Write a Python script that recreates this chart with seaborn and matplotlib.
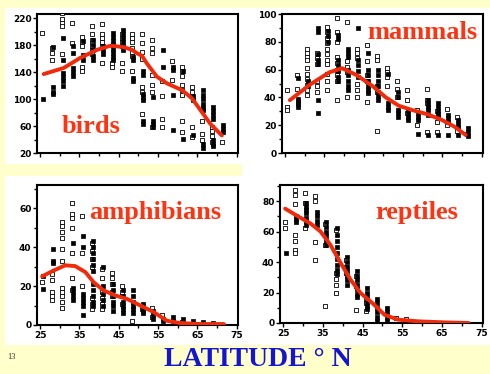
import numpy as np
import pandas as pd
import seaborn as sns
import matplotlib.pyplot as plt
from matplotlib.patches import Rectangle
from matplotlib.ticker import MultipleLocator

# latitude bands (deg N) used by every panel
bands = [25.5, 28.0, 30.5, 33.1, 35.6, 38.2, 40.7, 43.3, 45.8, 48.4,
         50.9, 53.4, 56.0, 58.5, 61.1, 63.6, 66.1, 68.7, 71.2]

# ---- birds ----
birds_open = [[198], [176, 168, 158], [228, 218, 212, 208, 166], [213, 183],
              [192, 185, 178, 148, 142], [208, 196, 188, 183, 178, 172, 166],
              [211, 196, 190, 184, 178, 153], [153, 148],
              [196, 190, 184, 178, 153, 141], [196, 190, 184, 176, 170, 164, 141],
              [196, 183, 170, 160, 118, 111, 78], [188, 176, 168, 136, 121, 111, 59],
              [126, 104, 71, 59], [156, 128], [148, 141, 134, 121, 113, 106, 68, 51],
              [118, 111, 59, 44], [68, 48, 40], [59, 52, 45, 36], [36]]
birds_fill = [[100], [177, 118, 111, 108], [190, 158, 138, 132, 126, 120],
              [178, 168, 146, 140, 134], [186, 165, 158], [188, 180, 172, 164, 158],
              [178, 172, 166], [198, 192, 186, 180, 174, 168, 162, 158],
              [203, 197, 191, 185, 179, 173], [163, 158, 131, 126],
              [141, 136, 108, 103, 98, 68, 63], [103, 68, 63, 59], [173, 148],
              [148, 143, 106, 54], [141, 41], [104, 98, 46],
              [113, 106, 100, 93, 87, 83, 34, 28], [88, 82, 76, 70, 40, 34, 30],
              [61, 56, 51]]
birds_curve_lat = [25.9, 31.0, 35.2, 39.5, 42.9, 46.2, 48.3, 49.6, 50.9, 52.1,
                   53.4, 54.7, 57.3, 61.1, 63.6, 65.7, 68.3, 71.2]
birds_curve_val = [137, 146, 161, 173, 179, 177, 173, 168, 164, 153,
                   143, 133, 123, 113, 101, 84, 63, 46]

# ---- mammals ----
mammals_open = [[45, 33, 31], [56, 46], [75, 72, 69, 67, 61, 57, 53, 49, 45, 42],
                [72, 68, 64, 52, 48, 44], [91, 87, 83, 79, 75, 71, 67, 64, 57, 52, 45],
                [97, 87, 80, 69, 65, 60, 56, 52, 38], [94, 66, 62, 58, 40],
                [75, 72, 68, 50, 45, 40], [78, 66, 56, 52, 37], [70, 67, 48, 44, 16],
                [61, 58, 55, 48], [52, 46, 40], [45, 38, 29], [31, 20],
                [46, 38, 36, 15], [30, 22, 15], [32, 20], [26, 16], [14]]
mammals_fill = [[], [54, 39, 37, 35, 33], [52, 48], [90, 87, 71, 67, 64, 38, 29],
                [88, 84, 80], [85, 82, 67, 63, 59, 55, 52],
                [75, 72, 69, 60, 56, 52, 48, 45], [90, 67, 63, 59, 55],
                [72, 60, 56, 52, 48, 45, 43], [60, 56, 52, 48, 44, 41, 38],
                [57, 36, 33, 31], [44, 40, 31, 29, 26], [31, 28, 26, 24],
                [29, 26, 24, 14], [38, 35, 33, 31, 27, 13], [36, 33, 30, 28, 26, 13],
                [27, 25, 22, 13], [24, 21, 19, 13], [18, 15, 12]]
mammals_curve_lat = [26.2, 31.2, 36.2, 39.5, 43.2, 47.3, 50.6, 53.9, 57.2, 61.0,
                     64.7, 68.0, 70.9]
mammals_curve_val = [38, 49, 58, 61, 56, 48, 40, 34, 31, 28, 24, 19, 13]

# ---- amphibians ----
amph_open = [[22], [26, 23, 17, 15, 13], [53, 51, 48, 45, 39, 33, 19, 17, 15, 12, 9],
             [63, 57, 55, 50, 37, 24, 18], [56, 37, 20], [42, 38, 34, 30, 14, 11, 8],
             [29, 24, 17, 14, 11, 8], [27, 24, 21, 17, 15], [20, 17, 15, 11], [2],
             [8], [9, 4], [5], [], [1.5], [], [], [], []]
amph_fill = [[25, 18.6], [39, 33, 32], [], [42, 19, 17, 15, 13],
             [46, 40, 16, 14, 12, 10, 5], [43, 40, 37, 34, 31, 28, 21, 18, 15, 12, 10],
             [30, 20, 16, 13, 10], [21, 18, 15, 12, 10, 7], [18, 15, 12, 10, 8, 6],
             [18, 15, 12, 10, 8, 6], [11, 9, 7, 6], [7, 5, 3], [3, 2], [4, 2], [3],
             [2], [1.4], [1], []]
amph_curve_lat = [25.5, 28.4, 31.4, 33.9, 36.5, 38.6, 41.1, 44.1, 47.1, 50.5,
                  53.9, 57.2, 60.6, 65.7, 71.7]
amph_curve_val = [25, 28, 30.7, 30.3, 27.2, 22, 17.8, 15.2, 13.4, 10,
                  6.6, 2.2, 1, 0.5, 0.5]

# ---- reptiles ----
rept_open = [[66, 62], [87, 84, 78, 58, 54, 48, 46], [85, 79, 62], [83, 80, 53, 41],
             [65, 51, 11], [61, 33, 29, 25, 20], [41, 37, 33], [31, 24, 8.7],
             [15, 13, 7.6], [], [], [3], [2.8], [], [], [], [], [], []]
rept_fill = [[45.7], [70, 68, 66], [79, 76, 74, 72, 69, 67, 64], [73, 70, 67, 64],
             [66, 63, 60, 57, 54, 51], [62, 58, 54, 50, 46, 42, 38, 35, 32],
             [43, 40, 37, 34, 31, 28, 25], [34, 31, 28, 25, 22, 19, 17],
             [23, 20, 17, 14, 11, 9], [16, 13, 10, 7, 4, 1], [10, 7, 4, 1],
             [], [], [], [], [], [], [], []]
rept_curve_lat = [25.5, 28.9, 31.8, 34.4, 36.9, 39.5, 42.0, 44.5, 47.5, 50.5,
                  53.9, 58.9, 65.7, 71.7]
rept_curve_val = [75, 69.7, 65.4, 60, 51.2, 39.2, 28.3, 19.6, 13, 5.4,
                  2.2, 1.1, 0.4, 0]

YELLOW = "#ffffcc"
RED = "#f02a0a"
W, H = 490, 374


def to_frame(cols):
    rows = [(b, v) for b, vals in zip(bands, cols) for v in vals]
    return pd.DataFrame(rows, columns=["lat", "val"])


def px_axes(fig, left, top, right, bottom):
    return fig.add_axes([left / W, 1 - bottom / H, (right - left) / W, (bottom - top) / H])


sns.set_style("ticks")
fig = plt.figure(figsize=(4.9, 3.74), dpi=100, facecolor=YELLOW)

# white scanned-figure areas
for (x0, y0, x1, y1) in [(5, 8, 242, 164), (5, 176, 245, 345), (242, 8, 490, 345)]:
    fig.patches.append(Rectangle((x0 / W, 1 - y1 / H), (x1 - x0) / W, (y1 - y0) / H,
                                 transform=fig.transFigure, facecolor="white",
                                 edgecolor="none", zorder=-5))

panels = [
    ("birds", (37, 14, 238, 153), birds_open, birds_fill, birds_curve_lat, birds_curve_val,
     (20, 226), [20, 60, 100, 140, 180, 220], 20, False, (0.27, 0.19)),
    ("mammals", (282, 14, 483, 153), mammals_open, mammals_fill, mammals_curve_lat,
     mammals_curve_val, (0, 100), [0, 20, 40, 60, 80, 100], 10, False, (0.70, 0.87)),
    ("amphibians", (37, 185, 238, 325), amph_open, amph_fill, amph_curve_lat,
     amph_curve_val, (0, 72), [0, 20, 40, 60], 10, True, (0.59, 0.80)),
    ("reptiles", (280, 185, 483, 323), rept_open, rept_fill, rept_curve_lat,
     rept_curve_val, (0, 90.5), [0, 20, 40, 60, 80], 10, True, (0.675, 0.80)),
]

for name, box, op, fl, clat, cval, ylim, yt, yminor, xlab, tpos in panels:
    ax = px_axes(fig, *box)
    ax.set_zorder(1)
    ax.set_facecolor("white")
    d_open = to_frame(op)
    d_fill = to_frame(fl)
    d_fill["lat"] = d_fill["lat"] + 0.3
    sns.scatterplot(data=d_open, x="lat", y="val", ax=ax, marker="s", s=5,
                    facecolor="white", edgecolor="black", linewidth=0.6, zorder=3)
    sns.scatterplot(data=d_fill, x="lat", y="val", ax=ax, marker="s", s=6,
                    color="black", edgecolor="black", linewidth=0.5, zorder=3)
    sns.lineplot(x=clat, y=cval, ax=ax, color=RED, linewidth=2.8, zorder=4)
    ax.set_xlim(24.2, 75.3)
    ax.set_ylim(*ylim)
    ax.set_yticks(yt)
    ax.yaxis.set_minor_locator(MultipleLocator(yminor))
    ax.set_xticks([25, 35, 45, 55, 65, 75])
    ax.xaxis.set_minor_locator(MultipleLocator(5))
    if not xlab:
        ax.set_xticklabels([])
    ax.set_xlabel("")
    ax.set_ylabel("")
    ax.tick_params(which="both", direction="out", length=3, width=1, pad=1,
                   labelsize=6.5, colors="black")
    ax.tick_params(which="minor", length=2)
    for lab in ax.get_xticklabels() + ax.get_yticklabels():
        lab.set_fontweight("bold")
    for sp in ax.spines.values():
        sp.set_visible(True)
        sp.set_linewidth(1.5)
        sp.set_color("black")
    ax.text(tpos[0], tpos[1], name, transform=ax.transAxes, ha="center", va="center",
            family="Liberation Serif", fontweight="bold", fontsize=19, color="#ff3311",
            zorder=5)

fig.text(258 / W, 1 - 360 / H, "LATITUDE \u00b0 N", ha="center", va="center",
         family="Liberation Serif", fontweight="bold", fontsize=20, color="#1414d2")
fig.text(12 / W, 1 - 357 / H, "13", ha="center", va="center",
         family="Liberation Serif", fontsize=6, color="#333333")

fig.savefig("out.png", dpi=100, facecolor=YELLOW)
